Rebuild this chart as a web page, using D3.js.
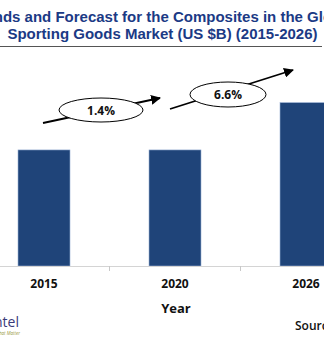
<!DOCTYPE html>
<html>
<head>
<meta charset="utf-8">
<script src="https://cdn.jsdelivr.net/npm/d3@7"></script>
<style>
  html, body { margin: 0; padding: 0; background: #fff; overflow: hidden; }
  svg { display: block; }
  .title { font-family: "Liberation Sans", Arial, sans-serif; font-weight: bold; font-size: 15px; fill: #1b3a85; }
  .cat { font-family: "Open Sans", sans-serif; font-weight: bold; font-size: 12px; fill: #111; }
  .label { font-family: "Open Sans", sans-serif; font-weight: bold; font-size: 13px; fill: #111; }
  .rate { font-family: "Open Sans", sans-serif; font-weight: bold; font-size: 12px; fill: #111; }
</style>
</head>
<body>
<svg id="chart"></svg>
<script>
// market size by year (US $B)
const years = ["2015", "2020", "2026"];
const values = [1.3, 1.3, 1.83];

// growth rates between consecutive years
const growthLabels = ["1.4%", "6.6%"];

const titleLines = [
  "Trends and Forecast for the Composites in the Global",
  "Sporting Goods Market (US $B) (2015-2026)"
];

const width = 324;
const height = 363;

const svg = d3.select("#chart").attr("width", width).attr("height", height);

// ---- scales ----
const baseY = 266;

const x = d3.scaleBand()
  .domain(years)
  .range([-21.5, 371.5])
  .paddingInner(0.603)
  .paddingOuter(0.3015);

const y = d3.scaleLinear()
  .domain([0, 2.8])
  .range([baseY, 16]);

// ---- title ----
svg.selectAll("text.title")
  .data(titleLines)
  .join("text")
  .attr("class", "title")
  .attr("x", 162.5)
  .attr("y", (d, i) => 22 + i * 16.5)
  .attr("text-anchor", "middle")
  .text((d) => d);

svg.append("line")
  .attr("x1", 0).attr("x2", 322)
  .attr("y1", 46.5).attr("y2", 46.5)
  .attr("stroke", "#555")
  .attr("stroke-width", 1);

// ---- bars ----
svg.append("g")
  .selectAll("rect")
  .data(years.map((d, i) => ({ year: d, value: values[i] })))
  .join("rect")
  .attr("x", (d) => x(d.year))
  .attr("y", (d) => y(d.value))
  .attr("width", x.bandwidth())
  .attr("height", (d) => y(0) - y(d.value))
  .attr("fill", "#1f4479")
  .attr("stroke", "#9db3d6")
  .attr("stroke-width", 0.6);

// ---- x axis ----
const step = x.step();
const boundaries = years.slice(1).map((d) => x(d) - (step - x.bandwidth()) / 2);

const axis = svg.append("g");
axis.append("line")
  .attr("x1", 0).attr("x2", width)
  .attr("y1", baseY + 0.5).attr("y2", baseY + 0.5)
  .attr("stroke", "#d4d4d4");
axis.selectAll("line.tick")
  .data(boundaries)
  .join("line")
  .attr("class", "tick")
  .attr("x1", (d) => d).attr("x2", (d) => d)
  .attr("y1", baseY).attr("y2", baseY + 5)
  .attr("stroke", "#c8c8c8");

axis.selectAll("text.cat")
  .data(years)
  .join("text")
  .attr("class", "cat")
  .attr("x", (d) => x(d) + x.bandwidth() / 2)
  .attr("y", 288)
  .attr("text-anchor", "middle")
  .text((d) => d);

svg.append("text")
  .attr("class", "label")
  .attr("x", 176)
  .attr("y", 313)
  .attr("text-anchor", "middle")
  .text("Year");

// ---- growth arrows ----
const defs = svg.append("defs");
defs.append("marker")
  .attr("id", "arrowHead")
  .attr("viewBox", "0 0 10 10")
  .attr("refX", 9).attr("refY", 5)
  .attr("markerWidth", 5.5).attr("markerHeight", 5.5)
  .attr("orient", "auto")
  .append("path")
  .attr("d", "M0,0 L10,5 L0,10 Z")
  .attr("fill", "#000");

const arrows = [
  { from: [43, 123], to: [160, 98], cx: 101, cy: 110, rx: 42, ry: 12 },
  { from: [170, 109], to: [293, 70], cx: 228, cy: 94.5, rx: 38, ry: 12.5 }
];

const g = svg.append("g");
arrows.forEach((a, i) => {
  g.append("line")
    .attr("x1", a.from[0]).attr("y1", a.from[1])
    .attr("x2", a.to[0]).attr("y2", a.to[1])
    .attr("stroke", "#000")
    .attr("stroke-width", 1.8)
    .attr("marker-end", "url(#arrowHead)");
  g.append("ellipse")
    .attr("cx", a.cx).attr("cy", a.cy)
    .attr("rx", a.rx).attr("ry", a.ry)
    .attr("fill", "#fff")
    .attr("stroke", "#000")
    .attr("stroke-width", 1);
  g.append("text")
    .attr("class", "rate")
    .attr("x", a.cx)
    .attr("y", a.cy + 4.5)
    .attr("text-anchor", "middle")
    .text(growthLabels[i]);
});

// ---- footer ----
svg.append("text")
  .attr("x", 19)
  .attr("y", 327)
  .attr("text-anchor", "end")
  .style("font-family", "'Open Sans', sans-serif")
  .style("font-size", "14px")
  .style("fill", "#3a3a7a")
  .text("Lucintel");

svg.append("text")
  .attr("x", 20)
  .attr("y", 335)
  .attr("text-anchor", "end")
  .style("font-family", "'Open Sans', sans-serif")
  .style("font-size", "4.5px")
  .style("font-style", "italic")
  .style("fill", "#9a9a40")
  .text("Insights That Matter");

svg.append("text")
  .attr("x", 295)
  .attr("y", 330)
  .style("font-family", "'Open Sans', sans-serif")
  .style("font-size", "12px")
  .style("font-weight", "600")
  .style("fill", "#111")
  .text("Source: Lucintel");
</script>
</body>
</html>
